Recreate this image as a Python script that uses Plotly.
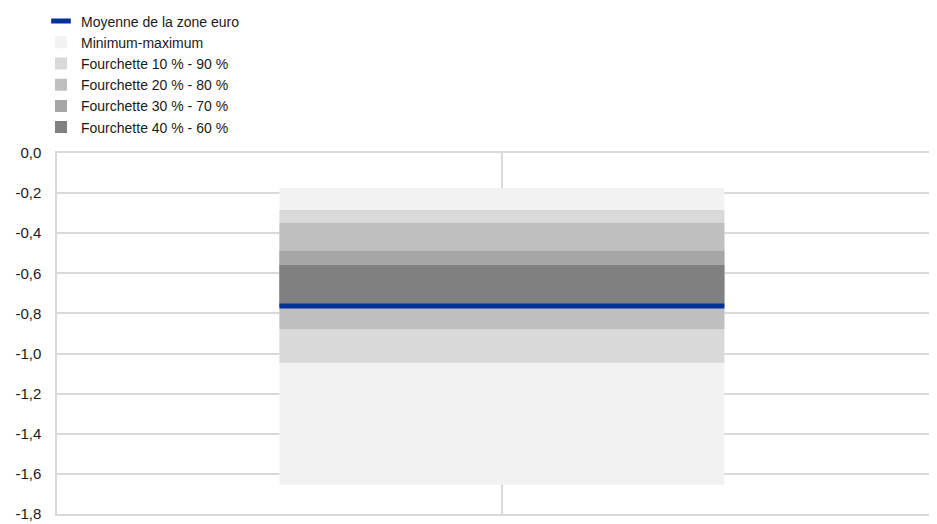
import plotly.graph_objects as go

# values (percentage points)
mean_name = "Moyenne de la zone euro"
mean_value = -0.763

band_names = ["Minimum-maximum", "Fourchette 10 % - 90 %", "Fourchette 20 % - 80 %",
              "Fourchette 30 % - 70 %", "Fourchette 40 % - 60 %"]
band_low = [-1.654, -1.046, -0.878, -0.77, -0.765]
band_high = [-0.175, -0.284, -0.349, -0.489, -0.559]
band_colors = ["#f2f2f2", "#d9d9d9", "#bfbfbf", "#a6a6a6", "#808080"]

y_ticks = [0.0, -0.2, -0.4, -0.6, -0.8, -1.0, -1.2, -1.4, -1.6, -1.8]
y_labels = [f"{v:.1f}".replace(".", ",") for v in y_ticks]

# one category, centred between the two vertical grid lines
pos = 1
width = 1
blue = "#003299"

fig = go.Figure()

# legend entry for the mean (short thick dash like the original)
fig.add_trace(go.Scatter(x=[None], y=[None], mode="markers", name=mean_name,
                         legendgroup="mean",
                         marker=dict(symbol="line-ew", size=14, color=blue,
                                     line=dict(color=blue, width=5))))
# the mean line itself (scatter layer sits above the bars)
fig.add_trace(go.Scatter(x=[pos - width / 2, pos + width / 2], y=[mean_value, mean_value],
                         mode="lines", name=mean_name, legendgroup="mean", showlegend=False,
                         line=dict(color=blue, width=5)))

for name, lo, hi, col in zip(band_names, band_low, band_high, band_colors):
    fig.add_trace(go.Bar(x=[pos], y=[hi - lo], base=[lo], width=[width], name=name,
                         marker=dict(color=col, line=dict(width=0))))

font = dict(family="Arial, Liberation Sans, sans-serif", size=14, color="#1a1a1a")

# the page puts the figure 8px in from the top-left corner, so size it to fit
W, H = 929, 516
L, T, B = 49, 145, 10
plot_w, plot_h = W - L, H - T - B

fig.update_layout(
    width=W, height=H,
    margin=dict(l=L, r=0, t=T, b=B, autoexpand=False),
    paper_bgcolor="white", plot_bgcolor="white",
    barmode="overlay",
    font=font,
    showlegend=True,
    legend=dict(x=(33 - L) / plot_w, xanchor="left",
                y=1 + (T + 2.5) / plot_h, yanchor="top",
                bgcolor="rgba(0,0,0,0)", font=font, traceorder="normal"),
    xaxis=dict(range=[0, 1.978], tickvals=[0, 1], showticklabels=False,
               showgrid=True, gridcolor="#d9d9d9", gridwidth=1.5, zeroline=False,
               showline=True, mirror=True, linecolor="#d9d9d9", linewidth=1.5,
               fixedrange=True),
    yaxis=dict(range=[-1.8, 0], tickvals=y_ticks, ticktext=y_labels,
               tickfont=dict(size=15),
               showgrid=True, gridcolor="#d9d9d9", gridwidth=1.5, zeroline=False,
               showline=True, linecolor="#d9d9d9", linewidth=1.5,
               ticks="", ticklabelstandoff=11, fixedrange=True),
)

fig.write_html("out.html")
